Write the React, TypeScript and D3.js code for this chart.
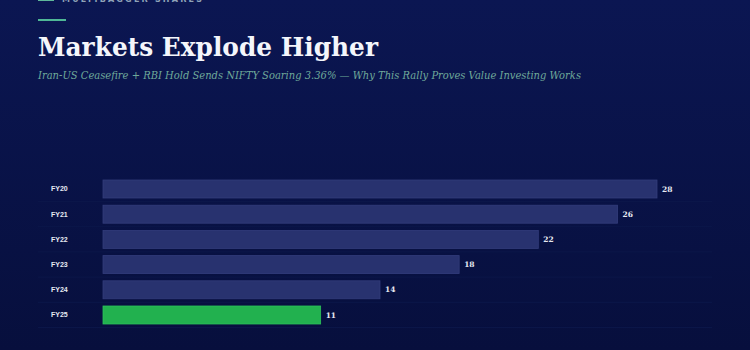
import * as d3 from 'd3';
import { useEffect, useRef } from 'react';

const years = ['FY20', 'FY21', 'FY22', 'FY23', 'FY24', 'FY25'];
const values = [28, 26, 22, 18, 14, 11];
const highlight = 'FY25';

const W = 750;
const H = 350;

const App = () => {
  const ref = useRef<SVGSVGElement | null>(null);

  useEffect(() => {
    document.body.style.margin = '0';
    const svg = d3.select(ref.current);
    svg.selectAll('*').remove();

    const defs = svg.append('defs');
    const grad = defs
      .append('linearGradient')
      .attr('id', 'bg')
      .attr('x1', 0)
      .attr('y1', 0)
      .attr('x2', 0)
      .attr('y2', 1);
    grad.append('stop').attr('offset', '0%').attr('stop-color', '#0b1652');
    grad.append('stop').attr('offset', '100%').attr('stop-color', '#070f3d');

    svg.append('rect').attr('width', W).attr('height', H).attr('fill', 'url(#bg)');

    // header
    svg
      .append('line')
      .attr('x1', 38)
      .attr('x2', 54)
      .attr('y1', 0)
      .attr('y2', 0)
      .attr('stroke', '#5fb89a')
      .attr('stroke-width', 2);
    svg
      .append('text')
      .attr('x', 62)
      .attr('y', 2)
      .attr('fill', '#8fa3b8')
      .style('font', '700 8px "DejaVu Sans", sans-serif')
      .style('letter-spacing', '2.2px')
      .text('MULTIBAGGER SHARES');
    svg
      .append('line')
      .attr('x1', 38)
      .attr('x2', 66)
      .attr('y1', 20)
      .attr('y2', 20)
      .attr('stroke', '#4fb896')
      .attr('stroke-width', 2);
    svg
      .append('text')
      .attr('x', 38)
      .attr('y', 56)
      .attr('fill', '#f4f6fb')
      .attr('textLength', 340)
      .attr('lengthAdjust', 'spacingAndGlyphs')
      .style('font', '700 26px "DejaVu Serif", Georgia, serif')
      .text('Markets Explode Higher');
    svg
      .append('text')
      .attr('x', 38)
      .attr('y', 79)
      .attr('fill', '#6fa99a')
      .attr('textLength', 543)
      .attr('lengthAdjust', 'spacingAndGlyphs')
      .style('font', 'italic 11px "DejaVu Serif", Georgia, serif')
      .text('Iran-US Ceasefire + RBI Hold Sends NIFTY Soaring 3.36% \u2014 Why This Rally Proves Value Investing Works');

    const x = d3.scaleLinear().domain([0, 28]).range([103, 657]);
    const y = d3.scaleBand().domain(years).range([172.8, 331.2]).padding(0.286);

    const rows = svg
      .selectAll('.row')
      .data(years.map((yr, i) => ({ yr, v: values[i] })))
      .enter()
      .append('g')
      .attr('class', 'row');

    rows
      .append('line')
      .attr('x1', 38)
      .attr('x2', 712)
      .attr('y1', (d) => y(d.yr)! + y.bandwidth() + 3.5)
      .attr('y2', (d) => y(d.yr)! + y.bandwidth() + 3.5)
      .attr('stroke', '#0c1749')
      .attr('stroke-width', 1);

    rows
      .append('rect')
      .attr('x', x(0))
      .attr('y', (d) => y(d.yr)!)
      .attr('width', (d) => x(d.v) - x(0))
      .attr('height', y.bandwidth())
      .attr('fill', (d) => (d.yr === highlight ? '#22b14f' : '#28326f'))
      .attr('stroke', (d) => (d.yr === highlight ? '#2cc25b' : '#333d7c'))
      .attr('stroke-width', 0.8);

    rows
      .append('text')
      .attr('x', 51)
      .attr('y', (d) => y(d.yr)! + y.bandwidth() / 2)
      .attr('dy', '0.35em')
      .attr('fill', '#e6e9f2')
      .style('font', '700 7px "Liberation Sans", Arial, sans-serif')
      .text((d) => d.yr);

    rows
      .append('text')
      .attr('x', (d) => x(d.v) + 5)
      .attr('y', (d) => y(d.yr)! + y.bandwidth() / 2)
      .attr('dy', '0.35em')
      .attr('fill', '#e6e9f2')
      .style('font', '700 7.5px "DejaVu Serif", Georgia, serif')
      .text((d) => d.v);
  }, []);

  return (
    <svg
      ref={ref}
      width={W}
      height={H}
      style={{ display: 'block', position: 'absolute', left: 0, top: 0 }}
    />
  );
};

export default App;
